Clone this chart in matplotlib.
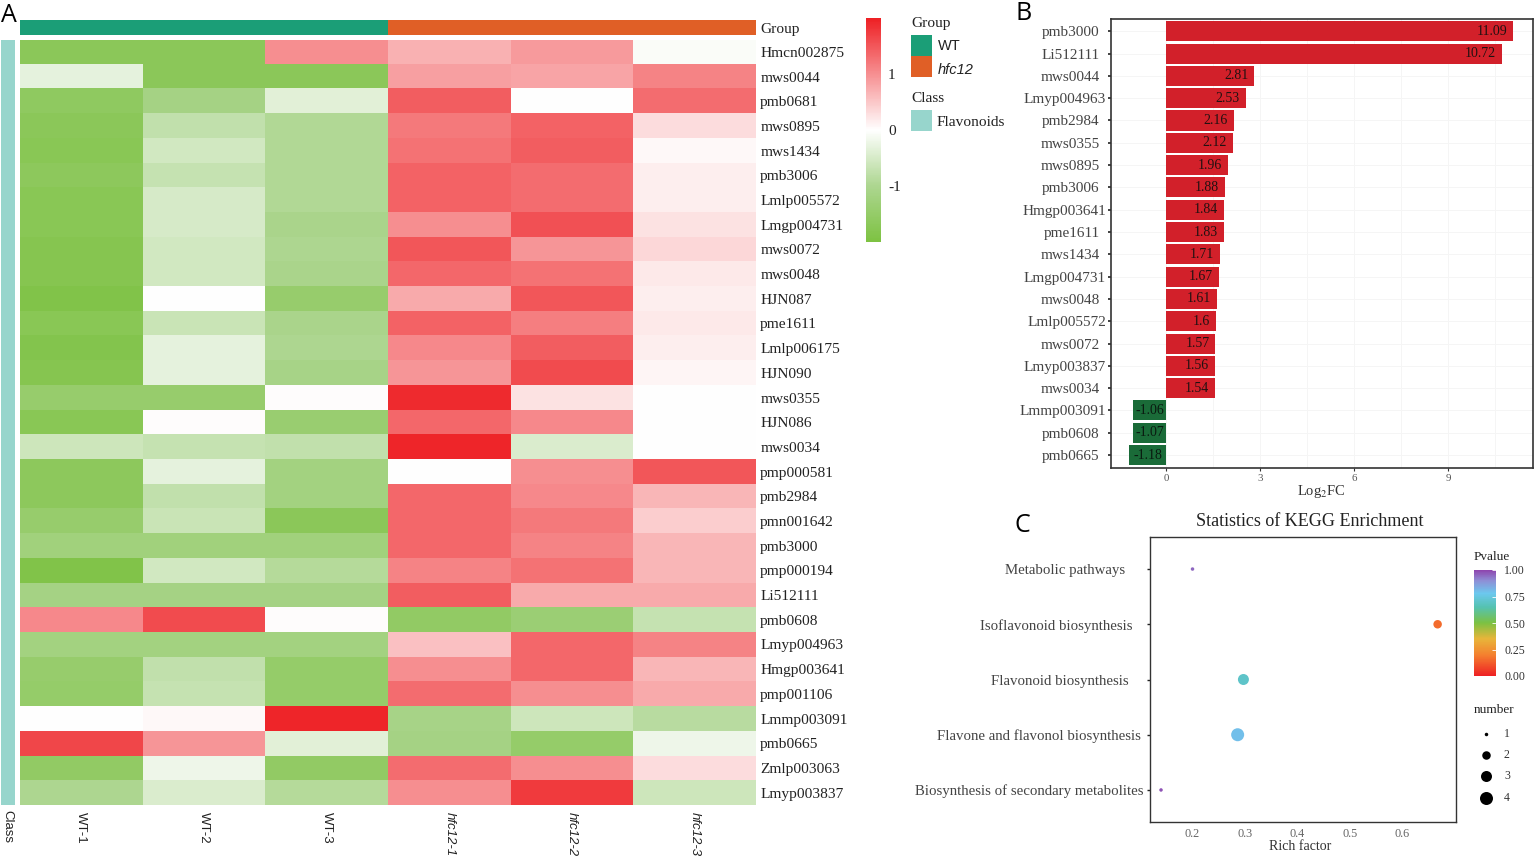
import numpy as np
import matplotlib
matplotlib.use('Agg')
import matplotlib.pyplot as plt
from matplotlib.colors import LinearSegmentedColormap, Normalize
from matplotlib.cm import ScalarMappable
from matplotlib.patches import Rectangle

W, H = 1535, 859
SERIF = 'Liberation Serif'
SANS = 'Liberation Sans'

# Panel A data
samples = ['WT-1', 'WT-2', 'WT-3', 'hfc12-1', 'hfc12-2', 'hfc12-3']
metabolites = ['Hmcn002875', 'mws0044', 'pmb0681', 'mws0895', 'mws1434', 'pmb3006',
               'Lmlp005572', 'Lmgp004731', 'mws0072', 'mws0048', 'HJN087', 'pme1611',
               'Lmlp006175', 'HJN090', 'mws0355', 'HJN086', 'mws0034', 'pmp000581',
               'pmb2984', 'pmn001642', 'pmb3000', 'pmp000194', 'Li512111', 'pmb0608',
               'Lmyp004963', 'Hmgp003641', 'pmp001106', 'Lmmp003091', 'pmb0665',
               'Zmlp003063', 'Lmyp003837']
heat_values = [
    [-1.7, -1.7, 1.0, 0.7, 0.9, -0.05],
    [-0.3, -1.7, -1.7, 0.85, 0.8, 1.1],
    [-1.6, -1.15, -0.35, 1.45, 0.0, 1.3],
    [-1.7, -0.75, -0.95, 1.2, 1.4, 0.3],
    [-1.75, -0.55, -0.95, 1.25, 1.45, 0.05],
    [-1.65, -0.7, -0.95, 1.4, 1.3, 0.15],
    [-1.75, -0.5, -0.95, 1.4, 1.3, 0.15],
    [-1.75, -0.5, -1.05, 1.0, 1.55, 0.25],
    [-1.8, -0.55, -1.0, 1.5, 0.95, 0.35],
    [-1.8, -0.55, -1.05, 1.35, 1.25, 0.2],
    [-1.9, 0.0, -1.45, 0.75, 1.5, 0.15],
    [-1.75, -0.65, -1.05, 1.4, 1.15, 0.2],
    [-1.85, -0.3, -1.0, 1.05, 1.45, 0.15],
    [-1.8, -0.3, -1.1, 0.95, 1.6, 0.08],
    [-1.45, -1.45, 0.02, 1.9, 0.25, 0.0],
    [-1.75, 0.02, -1.4, 1.35, 1.05, 0.0],
    [-0.6, -0.7, -0.75, 1.95, -0.45, 0.0],
    [-1.65, -0.3, -1.2, 0.0, 1.0, 1.5],
    [-1.65, -0.75, -1.2, 1.35, 1.05, 0.65],
    [-1.45, -0.65, -1.7, 1.35, 1.2, 0.45],
    [-1.25, -1.25, -1.25, 1.35, 1.1, 0.65],
    [-1.9, -0.55, -0.9, 1.1, 1.25, 0.65],
    [-1.15, -1.15, -1.15, 1.45, 0.75, 0.75],
    [1.05, 1.6, 0.02, -1.55, -1.35, -0.7],
    [-1.2, -1.2, -1.2, 0.55, 1.35, 1.1],
    [-1.45, -0.75, -1.5, 1.0, 1.35, 0.65],
    [-1.5, -0.7, -1.5, 1.3, 1.0, 0.75],
    [0.0, 0.05, 1.95, -1.1, -0.6, -0.85],
    [1.65, 0.95, -0.35, -1.15, -1.5, -0.2],
    [-1.55, -0.2, -1.55, 1.3, 1.0, 0.3],
    [-1.0, -0.45, -0.9, 1.0, 1.75, -0.6],
]

# Panel B data
fc_names = ['pmb3000', 'Li512111', 'mws0044', 'Lmyp004963', 'pmb2984', 'mws0355',
            'mws0895', 'pmb3006', 'Hmgp003641', 'pme1611', 'mws1434', 'Lmgp004731',
            'mws0048', 'Lmlp005572', 'mws0072', 'Lmyp003837', 'mws0034', 'Lmmp003091',
            'pmb0608', 'pmb0665']
fc_values = [11.09, 10.72, 2.81, 2.53, 2.16, 2.12, 1.96, 1.88, 1.84, 1.83, 1.71, 1.67,
             1.61, 1.6, 1.57, 1.56, 1.54, -1.06, -1.07, -1.18]

# Panel C data
pathways = ['Metabolic pathways', 'Isoflavonoid biosynthesis', 'Flavonoid biosynthesis',
            'Flavone and flavonol biosynthesis', 'Biosynthesis of secondary metabolites']
rich_factor = [0.2, 0.667, 0.297, 0.286, 0.14]
pvalues = [0.95, 0.16, 0.7, 0.8, 0.98]
numbers = [1, 2, 3, 4, 1]
number_levels = [1, 2, 3, 4]


def px_axes(left, top, right, bottom):
    return fig.add_axes([left / W, 1 - bottom / H, (right - left) / W, (bottom - top) / H])


def dot_size(n):
    # diameter in pixels for a count, turned into points squared
    d = np.array([0, 3.5, 8.5, 11, 13])[n]
    return (d * 72 / 100) ** 2


fig = plt.figure(figsize=(W / 100, H / 100), dpi=100)

# overlay in pixel coordinates for annotation bars and legends
ov = fig.add_axes([0, 0, 1, 1], zorder=5)
ov.set_xlim(0, W)
ov.set_ylim(H, 0)
ov.axis('off')

# ---- Panel A ----
heat_cmap = LinearSegmentedColormap.from_list(
    'gwr', [(0, '#7DC242'), (0.25, '#ADD690'), (0.5, '#FFFFFF'), (1, '#EE2024')])
heat_norm = Normalize(-2, 2)
ax = px_axes(20, 39.5, 756, 805)
ax.imshow(np.array(heat_values), cmap=heat_cmap, norm=heat_norm, aspect='auto', interpolation='nearest')
ax.set_xticks(range(len(samples)))
ax.set_yticks(range(len(metabolites)))
ax.set_yticklabels(metabolites, family=SERIF, fontsize=11.1, color='#222222')
ax.yaxis.tick_right()
ax.set_xticklabels(samples, family=SANS, fontsize=9.5, rotation=270, color='#222222')
for lab in ax.get_xticklabels():
    if lab.get_text().startswith('hfc'):
        lab.set_style('italic')
ax.tick_params(axis='y', length=0, pad=3)
ax.tick_params(axis='x', length=0, pad=5)
for s in ax.spines.values():
    s.set_visible(False)

ov.add_patch(Rectangle((20, 20), 368, 15, color='#1B9E77', lw=0))
ov.add_patch(Rectangle((388, 20), 368, 15, color='#E05F26', lw=0))
ov.add_patch(Rectangle((1, 39.5), 14, 765.5, color='#97D5CC', lw=0))
ov.text(760, 29, 'Group', family=SERIF, fontsize=11.1, va='center', color='#222222')
ov.text(7, 810, 'Class', family=SANS, fontsize=9.5, rotation=270, va='top', ha='center', color='#222222')

cax = px_axes(866, 18, 881, 242)
cb = fig.colorbar(ScalarMappable(heat_norm, heat_cmap), cax=cax, ticks=[-1, 0, 1])
cb.outline.set_visible(False)
cb.ax.tick_params(length=0, pad=5)
cb.ax.set_yticklabels(['-1', '0', '1'], family=SERIF, fontsize=11, color='#222222')

ov.text(911, 23, 'Group', family=SERIF, fontsize=11.1, va='center', color='#222222')
ov.add_patch(Rectangle((911, 35), 21, 21, color='#1B9E77', lw=0))
ov.add_patch(Rectangle((911, 56), 21, 21, color='#E05F26', lw=0))
ov.text(938, 46.5, 'WT', family=SANS, fontsize=10.5, va='center', color='#222222')
ov.text(938, 69.5, 'hfc12', family=SANS, fontsize=10.5, style='italic', va='center', color='#222222')
ov.text(911, 99, 'Class', family=SERIF, fontsize=11.1, va='center', color='#222222')
ov.add_patch(Rectangle((911, 110), 21, 21, color='#97D5CC', lw=0))
ov.text(937, 122, 'Flavonoids', family=SERIF, fontsize=11.1, va='center', color='#222222')

# ---- Panel B ----
ax = px_axes(1111, 19, 1533, 468)
y = np.arange(len(fc_names))
colors = ['#D2202A' if v > 0 else '#1A6B38' for v in fc_values]
ax.barh(y, fc_values, height=0.9, color=colors, edgecolor='none')
ax.set_xlim(-1.77, 11.72)
ax.set_ylim(len(fc_names) - 0.42, -0.55)
ax.set_yticks(y)
ax.set_yticklabels(fc_names, family=SERIF, fontsize=11, color='#444444')
for tick, name in zip(ax.yaxis.get_major_ticks(), fc_names):
    tick.set_pad(1 if len(name) == 10 else 5.5)
ax.set_xticks([0, 3, 6, 9])
ax.set_xticks([1.5, 4.5, 7.5, 10.5], minor=True)
ax.set_xticklabels(['0', '3', '6', '9'], family=SERIF, fontsize=7.8, color='#555555')
ax.tick_params(axis='x', which='major', length=2.5, width=0.8, pad=1.5, color='#333333')
ax.tick_params(axis='x', which='minor', length=0)
ax.tick_params(axis='y', length=2.5, width=1.2, color='#222222')
ax.grid(True, which='both', color='#F5F5F5', lw=0.7)
ax.set_axisbelow(True)
for v, yy in zip(fc_values, y):
    if v > 0:
        ax.annotate(f'{v:g}', (v, yy), xytext=(-4.3, 0), textcoords='offset points', ha='right',
                    va='center', family=SERIF, fontsize=10, color='#221111')
    else:
        ax.text(v / 2, yy, f'{v:g}', ha='center', va='center', family=SERIF, fontsize=10, color='#0A1A10')
for s in ax.spines.values():
    s.set_linewidth(1.2)
    s.set_color('#333333')
ov.text(1321, 491, r'Log$_2$FC', family=SERIF, fontsize=10.5, ha='center', va='center', color='#333333',
        math_fontfamily='stix')

# ---- Panel C ----
rainbow = LinearSegmentedColormap.from_list(
    'pval', [(0, '#EE2024'), (0.2, '#F4812F'), (0.35, '#E8B53A'), (0.5, '#7CC142'), (0.65, '#55C2B0'),
             (0.78, '#6CC8EE'), (0.9, '#8E8FD6'), (1, '#8E44AD')])
ax = px_axes(1150, 537, 1456, 822)
ypos = np.arange(len(pathways))
ax.scatter(rich_factor, ypos, s=[dot_size(n) for n in numbers], c=pvalues, cmap=rainbow, vmin=0, vmax=1, lw=0)
ax.set_xlim(0.119, 0.702)
ax.set_ylim(4.58, -0.58)
ax.set_yticks(ypos)
ax.set_yticklabels(pathways, family=SERIF, fontsize=10.75, color='#444444')
for tick, p in zip(ax.yaxis.get_major_ticks(), [15.7, 10.4, 12.7, 4.3, 2.5]):
    tick.set_pad(p)
ax.set_xticks([0.2, 0.3, 0.4, 0.5, 0.6])
ax.set_xticklabels(['0.2', '0.3', '0.4', '0.5', '0.6'], family=SERIF, fontsize=8.8, color='#666666')
ax.tick_params(axis='x', length=0, pad=4.5)
ax.tick_params(axis='y', length=2.5, width=1.0, color='#222222')
for s in ax.spines.values():
    s.set_linewidth(1.0)
    s.set_color('#333333')
ov.text(1300, 847, 'Rich factor', family=SERIF, fontsize=10, ha='center', va='center', color='#333333')
ov.text(1310, 521, 'Statistics of KEGG Enrichment', family=SERIF, fontsize=13, ha='center', va='center', color='#222222')

cax = px_axes(1474, 570, 1496, 676)
cb = fig.colorbar(ScalarMappable(Normalize(0, 1), rainbow), cax=cax, ticks=[0, 0.25, 0.5, 0.75, 1])
cb.outline.set_visible(False)
cb.ax.set_yticklabels(['0.00', '0.25', '0.50', '0.75', '1.00'], family=SERIF, fontsize=8.5, color='#333333')
cb.ax.tick_params(length=3, width=0.6, color='white', direction='in', pad=6)
ov.text(1474, 557, 'Pvalue', family=SERIF, fontsize=9.5, va='center', color='#222222')
ov.text(1474, 710, 'number', family=SERIF, fontsize=9.5, va='center', color='#222222')
for n, yy in zip(number_levels, [734, 755, 776, 798]):
    ov.scatter([1486], [yy], s=dot_size(n), color='black', lw=0)
    ov.text(1504, yy, str(n), family=SERIF, fontsize=8.5, va='center', ha='left', color='#333333')

# panel letters
ov.text(1, 15, 'A', family='Open Sans', fontsize=18, va='center', color='black')
ov.text(1015, 14, 'B', family='Open Sans', fontsize=18, va='center', color='black')
ov.text(1015, 525, 'C', family='Open Sans', fontsize=18, va='center', color='black')

fig.savefig('out.png', dpi=100)
